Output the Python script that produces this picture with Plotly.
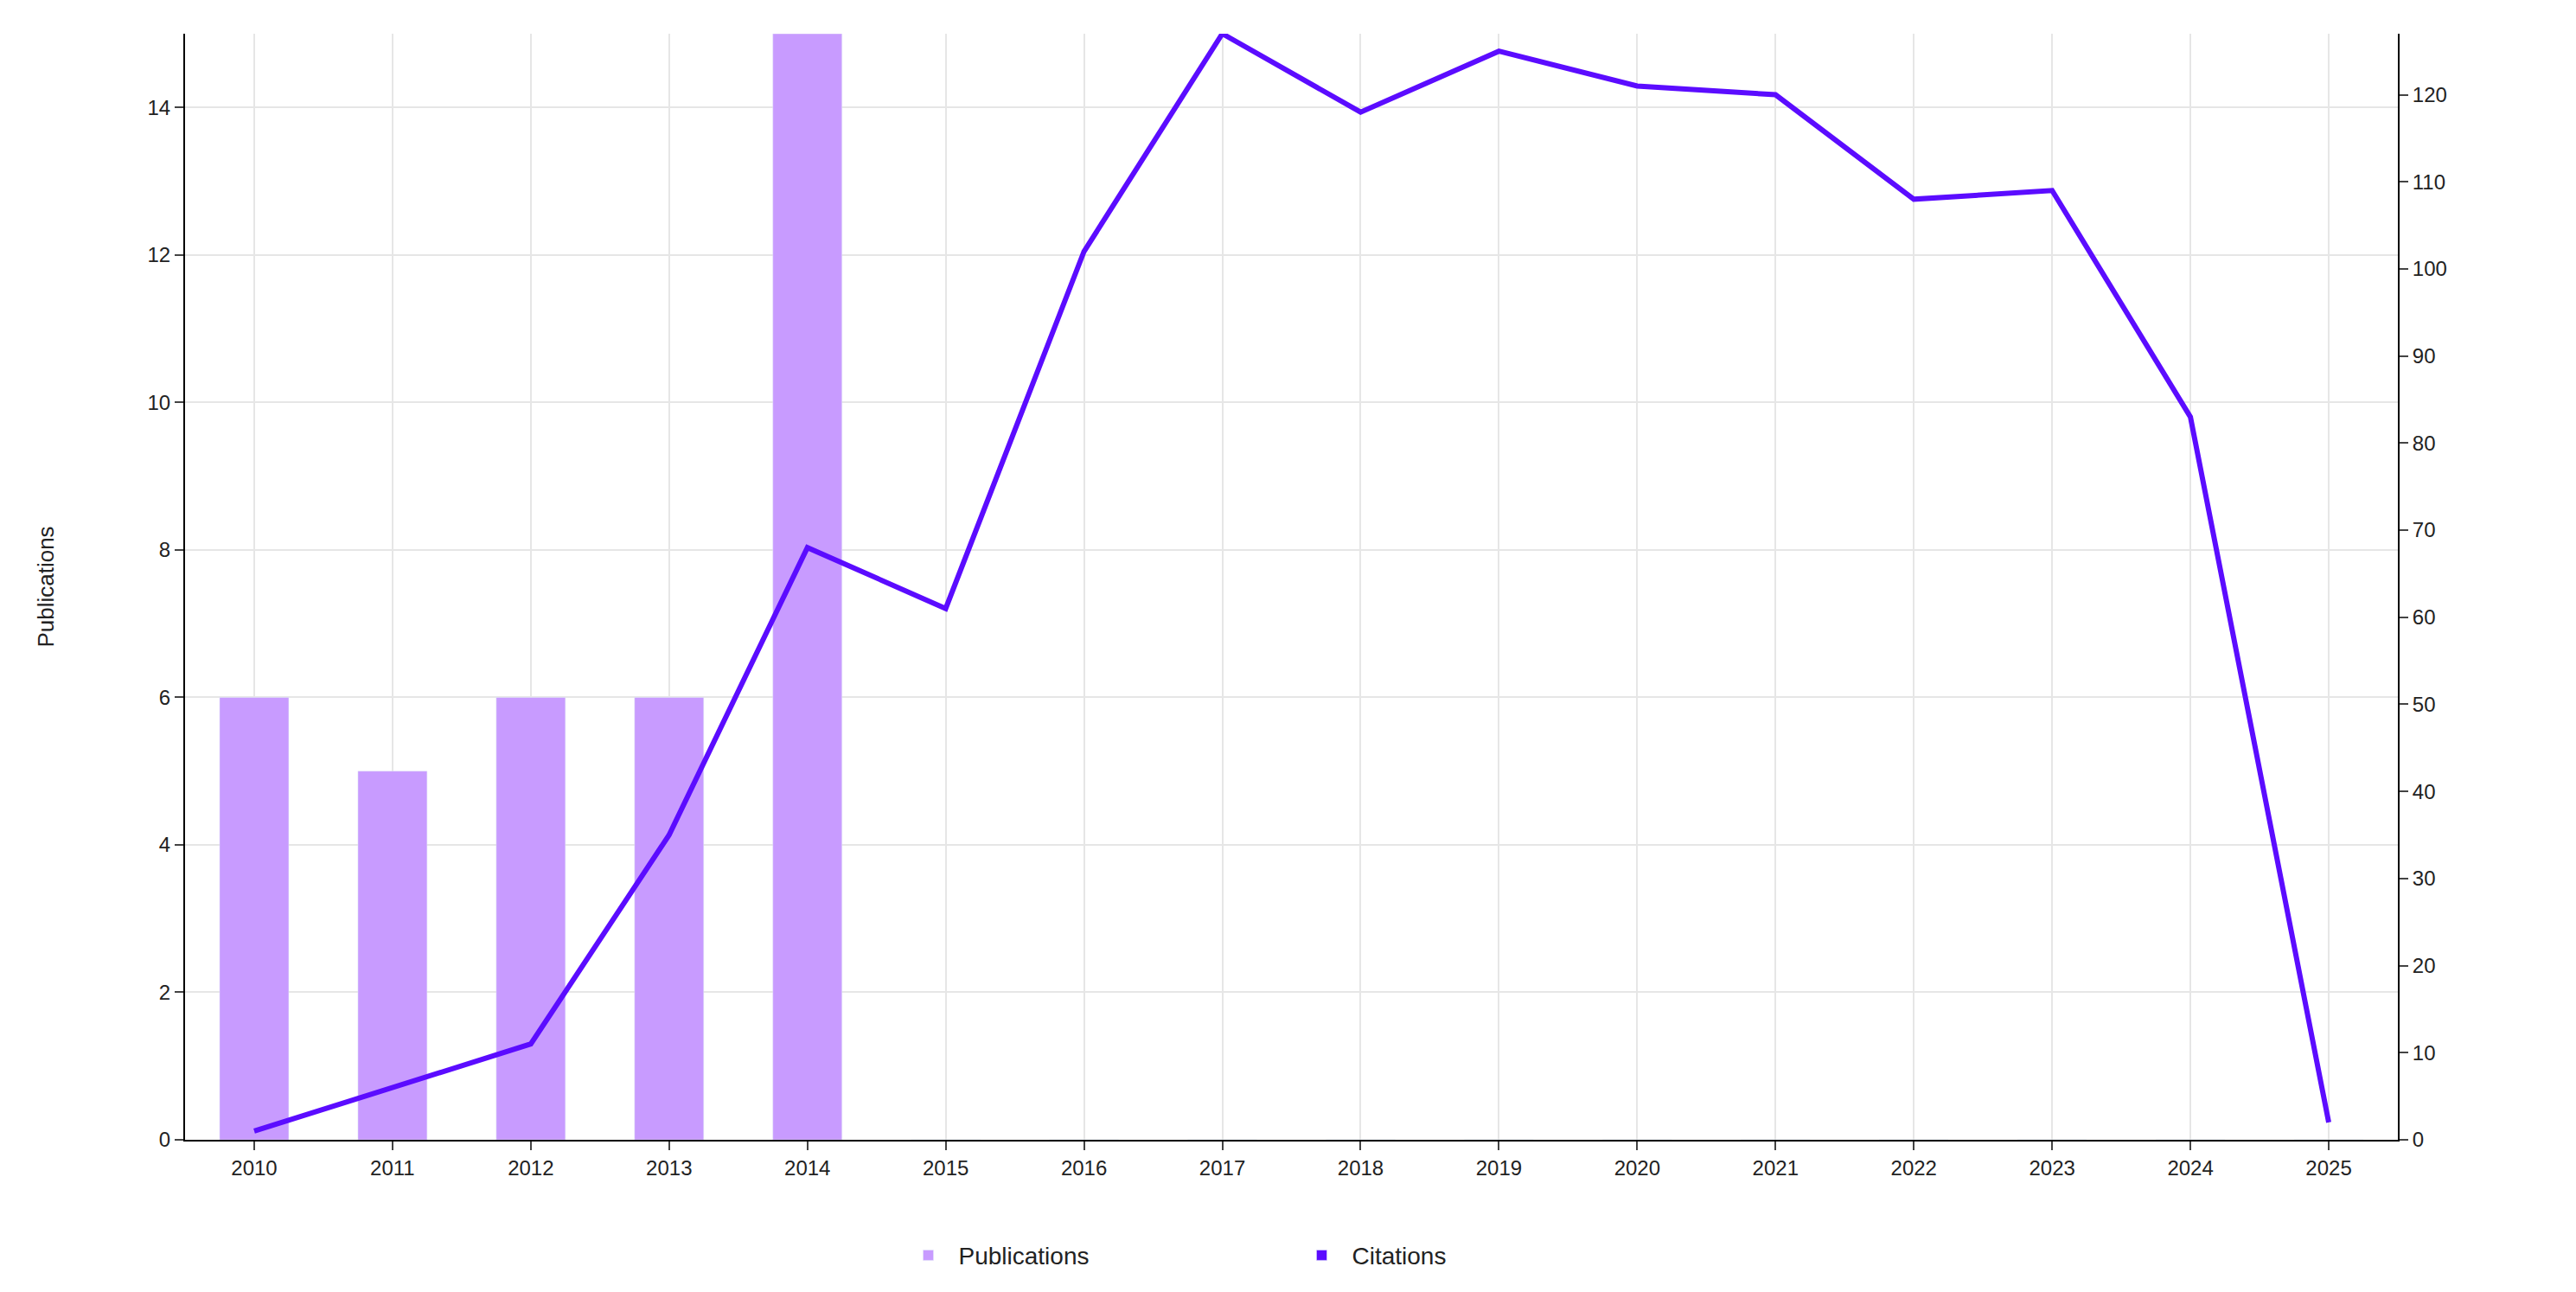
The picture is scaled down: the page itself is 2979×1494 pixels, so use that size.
import plotly.graph_objects as go

years = [str(y) for y in range(2010, 2026)]
publications = [6, 5, 6, 6, 15, 0, 0, 0, 0, 0, 0, 0, 0, 0, 0, 0]
citations = [1, 6, 11, 35, 68, 61, 102, 127, 118, 125, 121, 120, 108, 109, 83, 2]

bar_color = "#c89bff"
line_color = "#5b0cff"

fig = go.Figure()
fig.add_trace(go.Bar(x=years, y=publications, name="Publications", marker_color=bar_color, width=0.5))
fig.add_trace(go.Scatter(x=years, y=citations, name="Citations", mode="lines", line=dict(color=line_color, width=6),
                         yaxis="y2", showlegend=False))
fig.add_trace(go.Bar(x=[years[0]], y=[None], name="Citations", marker_color=line_color, showlegend=True))

font = dict(family="Liberation Sans, Arial", size=24, color="#222")
fig.update_layout(
    width=2979, height=1494, paper_bgcolor="white", plot_bgcolor="white",
    margin=dict(l=206, r=214, t=31, b=184), font=font,
    barmode="overlay",
    xaxis=dict(type="category", showgrid=True, gridcolor="#e6e6e6", gridwidth=2, showline=True, linecolor="black", linewidth=2,
               ticks="outside", ticklen=10, tickwidth=2),
    yaxis=dict(range=[0, 15], dtick=2, showgrid=True, gridcolor="#e6e6e6", gridwidth=2, showline=True, linecolor="black", linewidth=2,
               ticks="outside", ticklen=10, tickwidth=2, zeroline=False,
               title=dict(text="Publications", standoff=100, font=dict(size=26))),
    yaxis2=dict(range=[0, 127], dtick=10, overlaying="y", side="right", showgrid=False, showline=True, linecolor="black", linewidth=2,
                ticks="outside", ticklen=10, tickwidth=2, zeroline=False),
    legend=dict(orientation="h", x=0.5, xanchor="center", y=-0.085, yanchor="top", font=dict(size=28),
                itemwidth=60, entrywidth=380, traceorder="normal"),
    annotations=[dict(text="Citations", textangle=90, xref="paper", yref="paper", x=1.13, y=0.5,
                      showarrow=False, font=dict(size=30, color="#222"))],
)
fig.write_html("out.html")
